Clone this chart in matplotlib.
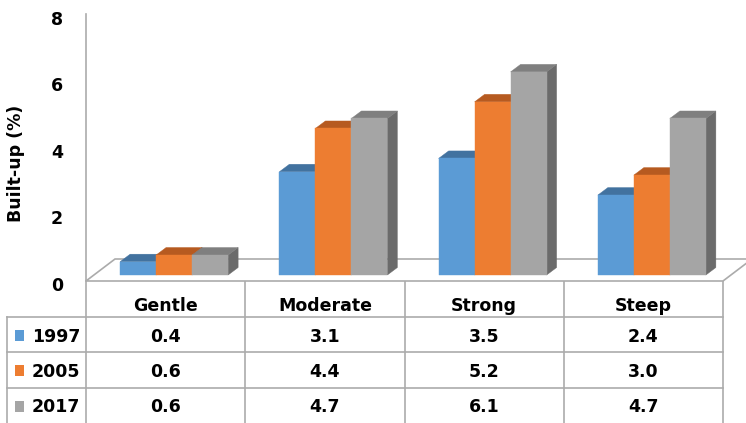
import matplotlib
matplotlib.use("Agg")
import matplotlib.pyplot as plt
from matplotlib.patches import Polygon, Rectangle
from matplotlib.transforms import blended_transform_factory

categories = ["Gentle", "Moderate", "Strong", "Steep"]
years = ["1997", "2005", "2017"]
built_1997 = [0.4, 3.1, 3.5, 2.4]
built_2005 = [0.6, 4.4, 5.2, 3.0]
built_2017 = [0.6, 4.7, 6.1, 4.7]
series = [built_1997, built_2005, built_2017]
yticks = [0, 2, 4, 6, 8]

front_col = ["#5B9BD5", "#ED7D31", "#A5A5A5"]
top_col = ["#42729F", "#B65A20", "#7F7F7F"]
side_col = ["#3B6890", "#A4511C", "#6B6B6B"]
line_col = "#ababab"

plt.rcParams["font.family"] = ["DejaVu Sans"]
plt.rcParams["font.weight"] = "bold"
FS = 12.5

W, H = 746, 423
fig = plt.figure(figsize=(W / 100, H / 100), dpi=100)

# full-figure pixel axes for the data table
tab = fig.add_axes([0, 0, 1, 1])
tab.set_xlim(0, W)
tab.set_ylim(H, 0)
tab.axis("off")

# plot axes: x in category units, y in value units
x0_px, x1_px, y0_px = 86, 723, 284
ppy = 33.3
ax = fig.add_axes([x0_px / W, 1 - y0_px / H, (x1_px - x0_px) / W, y0_px / H])
ax.set_xlim(0, len(categories))
ax.set_ylim(0, y0_px / ppy)
ax.patch.set_visible(False)
for s in ax.spines.values():
    s.set_visible(False)
ppx = (x1_px - x0_px) / len(categories)


def dx(p):
    return p / ppx


def dy(p):
    return p / ppy


# floor (front edge at pixel 281)
fy = dy(3)
floor = Polygon([(0, fy), (4, fy), (4 + dx(29), fy + dy(22)), (dx(29), fy + dy(22))],
                closed=True, facecolor="white", edgecolor=line_col, lw=1.2,
                clip_on=False, zorder=1)
ax.add_patch(floor)
# value axis line
ax.plot([0, 0], [fy, dy(y0_px - 14)], color=line_col, lw=1.2, clip_on=False, zorder=2)

# bars
bw = dx(36)
ox, oy = dx(8.5), dy(9)
ddx, ddy = dx(10), dy(7.5)
for i in range(len(categories)):
    for j, vals in enumerate(series):
        v = vals[i]
        xl = i + 0.5 - 1.5 * bw + j * bw + ox
        xr = xl + bw
        z = 3 + j
        ax.add_patch(Polygon([(xr, oy), (xr, oy + v), (xr + ddx, oy + v + ddy), (xr + ddx, oy + ddy)],
                             closed=True, facecolor=side_col[j], edgecolor=side_col[j], lw=0.3, zorder=z))
        ax.add_patch(Polygon([(xl, oy + v), (xr, oy + v), (xr + ddx, oy + v + ddy), (xl + ddx, oy + v + ddy)],
                             closed=True, facecolor=top_col[j], edgecolor=top_col[j], lw=0.3, zorder=z))
        ax.add_patch(Rectangle((xl, oy), bw, v, facecolor=front_col[j], edgecolor=front_col[j],
                               lw=0.3, zorder=z))

ax.set_xticks([])
ax.set_yticks(yticks)
ax.set_yticklabels([str(t) for t in yticks], fontsize=FS, fontweight="bold")
ax.tick_params(axis="y", length=0, pad=16.5)
ax.set_ylabel("Built-up (%)", fontsize=FS, fontweight="bold")
ax.yaxis.set_label_coords((25 - x0_px) / (x1_px - x0_px), (y0_px - 163) / y0_px)

# data table
bt = blended_transform_factory(ax.transData, tab.transData)
for k in range(len(categories) + 1):
    tab.plot([k, k], [281, H], color=line_col, lw=1.2, transform=bt)
row_lines = [317, 352, 388]
for yl in row_lines:
    tab.plot([7, x1_px], [yl, yl], color=line_col, lw=1.2)
tab.plot([7, 7], [317, H], color=line_col, lw=1.2)

for i, cat in enumerate(categories):
    tab.text(i + 0.5, 311, cat, transform=bt, ha="center", va="baseline", fontsize=FS)

baselines = [341.5, 377, 412.5]
for j, (yr, vals) in enumerate(zip(years, series)):
    b = baselines[j]
    tab.add_patch(Rectangle((15, b - 11.5), 9, 11, facecolor=front_col[j], edgecolor="none"))
    tab.text(32, b, yr, ha="left", va="baseline", fontsize=FS)
    for i, v in enumerate(vals):
        tab.text(i + 0.5, b, f"{v:.1f}", transform=bt, ha="center", va="baseline", fontsize=FS)

fig.savefig("out.png", dpi=100)
